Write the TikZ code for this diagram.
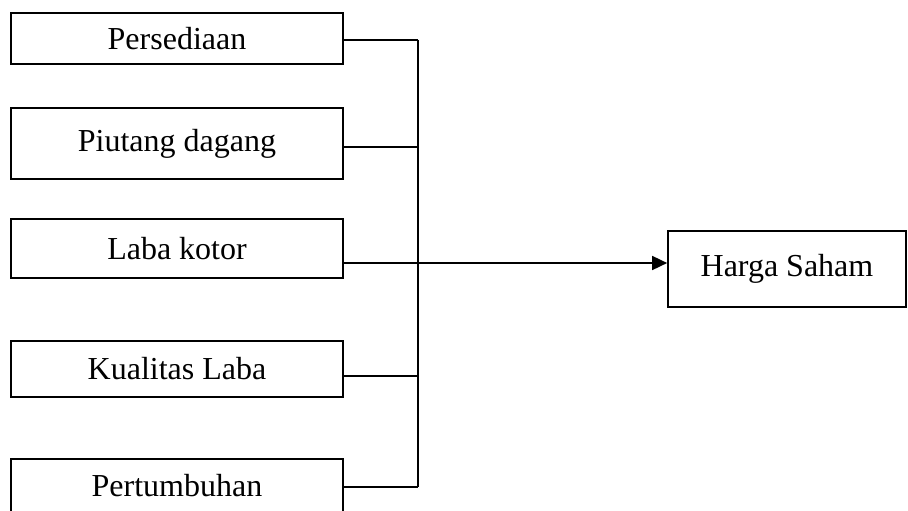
\documentclass[tikz,border=0pt]{standalone}
\usepackage{fontspec}
\setmainfont{Liberation Serif}
\usetikzlibrary{arrows.meta}
\begin{document}
\begin{tikzpicture}[x=1pt,y=-1pt,
  varbox/.style={draw,line width=1.7pt,rectangle,inner sep=0pt,
    font=\fontsize{32}{32}\selectfont},
  link/.style={line width=1.7pt},
  arrowlink/.style={line width=1.7pt,-{Triangle[length=15pt,width=14pt]}}]
  \clip (0,0) rectangle (908,511);
  % independent variables
  \node[varbox,minimum width=332pt,minimum height=51pt] (b1) at (177,38.5) {Persediaan};
  \node[varbox,minimum width=332pt,minimum height=71pt] (b2) at (177,143.5) {Piutang dagang};
  \node[varbox,minimum width=332pt,minimum height=59pt] (b3) at (177,248.5) {Laba kotor};
  \node[varbox,minimum width=332pt,minimum height=56pt] (b4) at (177,369) {Kualitas Laba};
  \node[varbox,minimum width=332pt,minimum height=54pt] (b5) at (177,486) {Pertumbuhan};
  % dependent variable
  \node[varbox,minimum width=238pt,minimum height=76pt] (hs) at (787,269) {Harga Saham};
  % junction points on the collecting bus
  \coordinate (j1) at (418,40);
  \coordinate (j2) at (418,147);
  \coordinate (j3) at (418,263);
  \coordinate (j4) at (418,376);
  \coordinate (j5) at (418,487);
  \draw[link] (b1.east |- j1) -- (j1);
  \draw[link] (b2.east |- j2) -- (j2);
  \draw[link] (b3.east |- j3) -- (j3);
  \draw[link] (b4.east |- j4) -- (j4);
  \draw[link] (b5.east |- j5) -- (j5);
  \draw[link] (j1) -- (j5);
  \draw[arrowlink] (j3) -- (hs.west |- j3);
\end{tikzpicture}
\end{document}
